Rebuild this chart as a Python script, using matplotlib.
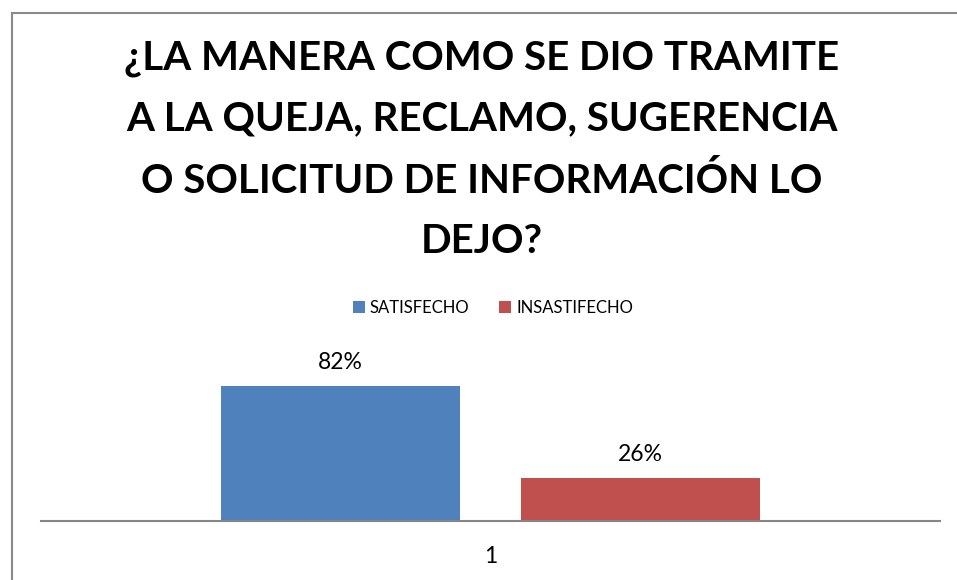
import matplotlib
matplotlib.use('Agg')
import matplotlib.pyplot as plt
from matplotlib.patches import Rectangle

plt.rcParams['font.family'] = ['Lato', 'DejaVu Sans']

# datos
categorias = ['1']
series = ['SATISFECHO', 'INSASTIFECHO']
valores = [0.82, 0.26]
etiquetas = ['82%', '26%']
colores = ['#4F81BD', '#C0504D']
titulo = ('¿LA MANERA COMO SE DIO TRAMITE\nA LA QUEJA, RECLAMO, SUGERENCIA\n'
          'O SOLICITUD DE INFORMACIÓN LO\nDEJO?')

W, H = 957, 580
fig = plt.figure(figsize=(W / 100, H / 100), dpi=100)

# marco del grafico (cortado a la derecha y abajo)
fig.patches.append(Rectangle((12 / W, -0.1), 1.1, 1.1 - 13 / H, transform=fig.transFigure,
                             fill=False, edgecolor='#898989', linewidth=1.5))

ax = fig.add_axes([41 / W, 59 / H, 899 / W, 164.6 / H])

ancho = 239 / 899
offsets = [-(ancho + 61 / 899) / 2, (ancho + 61 / 899) / 2]
for i, (s, v, lab, c) in enumerate(zip(series, valores, etiquetas, colores)):
    ax.bar(0.5 + offsets[i], v, width=ancho, color=c, label=s)
    ax.text(0.5 + offsets[i], v + 0.145, lab, ha='center', va='center', fontsize=16.5, clip_on=False)

ax.set_xlim(0, 1)
ax.set_ylim(0, 1)
ax.set_xticks([0.5])
ax.set_xticklabels(categorias, fontsize=16.5)
ax.tick_params(axis='x', length=0, pad=18)
ax.set_yticks([])
for sp in ['top', 'right', 'left']:
    ax.spines[sp].set_visible(False)
ax.spines['bottom'].set_color('#868686')
ax.spines['bottom'].set_linewidth(1.5)
ax.patch.set_visible(False)

fig.legend(loc='center', bbox_to_anchor=(493 / W, 1 - 308 / H), ncol=2, frameon=False,
           fontsize=12, handlelength=0.7, handleheight=0.7, handletextpad=0.3,
           columnspacing=1.8, borderpad=0)

fig.text(482 / W, 1 - 40 / H, titulo, ha='center', va='top', fontsize=29,
         fontweight='bold', linespacing=1.78)

fig.savefig('out.png', dpi=100)
